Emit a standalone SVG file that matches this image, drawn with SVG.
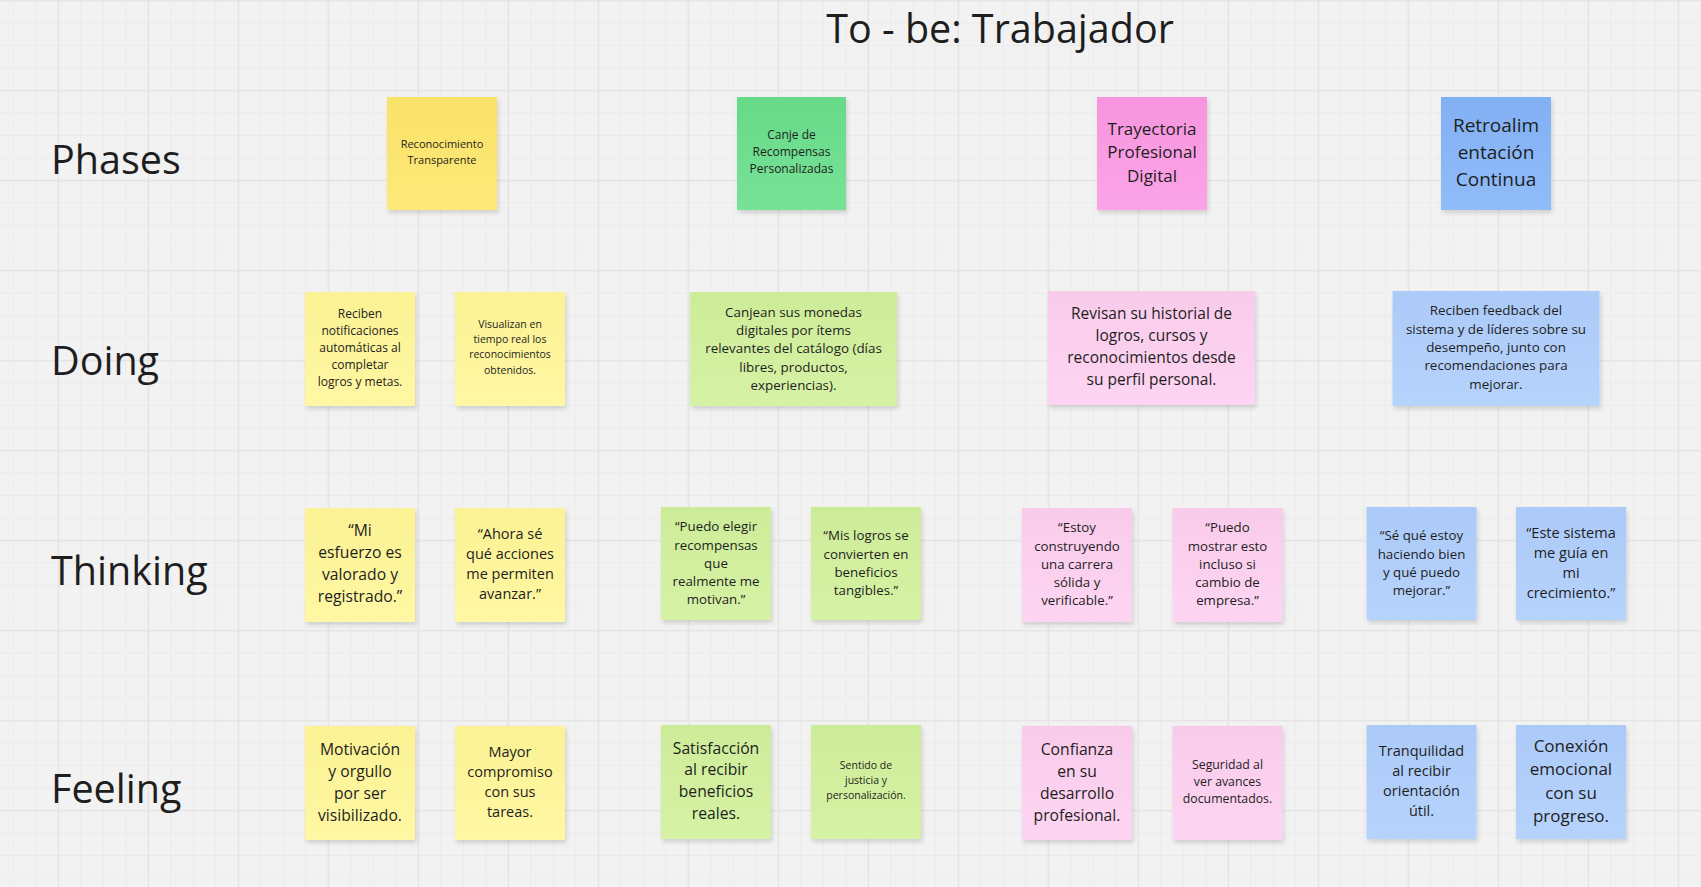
<svg xmlns="http://www.w3.org/2000/svg" width="1701" height="887" viewBox="0 0 1701 887">
<defs>
<pattern id="minor" patternUnits="userSpaceOnUse" x="57.8" y="0" width="22.5" height="22.5">
<rect x="0" y="0" width="1" height="22.5" fill="#ebebeb"/>
<rect x="0" y="0" width="22.5" height="1" fill="#ebebeb"/>
</pattern>
<pattern id="major" patternUnits="userSpaceOnUse" x="57.6" y="-0.2" width="90" height="90">
<rect x="0" y="0" width="1.5" height="90" fill="#e4e4e4"/>
<rect x="0" y="0" width="90" height="1.5" fill="#e4e4e4"/>
</pattern>
<linearGradient id="yP" x1="0" y1="0" x2="0" y2="1"><stop offset="0" stop-color="#f9e268"/><stop offset="1" stop-color="#fee979"/></linearGradient>
<linearGradient id="gP" x1="0" y1="0" x2="0" y2="1"><stop offset="0" stop-color="#66da88"/><stop offset="1" stop-color="#78e297"/></linearGradient>
<linearGradient id="pP" x1="0" y1="0" x2="0" y2="1"><stop offset="0" stop-color="#f795de"/><stop offset="1" stop-color="#fba4e7"/></linearGradient>
<linearGradient id="bP" x1="0" y1="0" x2="0" y2="1"><stop offset="0" stop-color="#82b0f4"/><stop offset="1" stop-color="#90bcf8"/></linearGradient>
<linearGradient id="yL" x1="0" y1="0" x2="0" y2="1"><stop offset="0" stop-color="#fbf294"/><stop offset="1" stop-color="#fff7a3"/></linearGradient>
<linearGradient id="gL" x1="0" y1="0" x2="0" y2="1"><stop offset="0" stop-color="#cdec98"/><stop offset="1" stop-color="#d6f2a5"/></linearGradient>
<linearGradient id="pL" x1="0" y1="0" x2="0" y2="1"><stop offset="0" stop-color="#f9cbea"/><stop offset="1" stop-color="#fdd5f2"/></linearGradient>
<linearGradient id="bL" x1="0" y1="0" x2="0" y2="1"><stop offset="0" stop-color="#accaf8"/><stop offset="1" stop-color="#b6d3fc"/></linearGradient>
<filter id="sh" x="-10%" y="-10%" width="125%" height="130%">
<feDropShadow dx="1.5" dy="3" stdDeviation="2" flood-color="#000" flood-opacity="0.14"/>
</filter>
</defs>
<style>
text{font-family:"Open Sans","Noto Sans","DejaVu Sans",sans-serif;fill:#1e1e1e;}
.lbl{font-size:39.5px;}
.st text{text-anchor:middle;}
.st rect{filter:url(#sh);}
</style>
<rect width="1701" height="887" fill="#f2f2f2"/>
<rect width="1701" height="887" fill="url(#minor)"/>
<rect width="1701" height="887" fill="url(#major)"/>

<g id="title"><text x="1000" y="43" class="lbl" text-anchor="middle">To - be: Trabajador</text></g>
<g id="row-labels">
<text x="51" y="174" class="lbl">Phases</text>
<text x="51" y="375" class="lbl">Doing</text>
<text x="51" y="585" class="lbl">Thinking</text>
<text x="51" y="803" class="lbl">Feeling</text>
</g>
<g id="connectors"/>

<!-- Phases -->
<g id="phase-1" class="st"><rect x="387" y="97" width="110" height="113" fill="url(#yP)"/>
<text font-size="11"><tspan x="442" y="148.2">Reconocimiento</tspan><tspan x="442" y="163.6">Transparente</tspan></text></g>
<g id="phase-2" class="st"><rect x="737" y="97" width="109" height="113" fill="url(#gP)"/>
<text font-size="12"><tspan x="791.5" y="138.9">Canje de</tspan><tspan x="791.5" y="156.1">Recompensas</tspan><tspan x="791.5" y="173.3">Personalizadas</tspan></text></g>
<g id="phase-3" class="st"><rect x="1097" y="97" width="110" height="113" fill="url(#pP)"/>
<text font-size="17"><tspan x="1152" y="134.7">Trayectoria</tspan><tspan x="1152" y="158.4">Profesional</tspan><tspan x="1152" y="182.1">Digital</tspan></text></g>
<g id="phase-4" class="st"><rect x="1441" y="97" width="110" height="113" fill="url(#bP)"/>
<text font-size="19"><tspan x="1496" y="132.3">Retroalim</tspan><tspan x="1496" y="159.2">entación</tspan><tspan x="1496" y="186.1">Continua</tspan></text></g>

<!-- Doing -->
<g id="doing-1" class="st"><rect x="305" y="292" width="110" height="114" fill="url(#yL)"/>
<text font-size="12"><tspan x="360" y="317.5">Reciben</tspan><tspan x="360" y="334.6">notificaciones</tspan><tspan x="360" y="351.7">automáticas al</tspan><tspan x="360" y="368.8">completar</tspan><tspan x="360" y="385.9">logros y metas.</tspan></text></g>
<g id="doing-2" class="st"><rect x="455" y="292" width="110" height="114" fill="url(#yL)"/>
<text font-size="10.5"><tspan x="510" y="328">Visualizan en</tspan><tspan x="510" y="343.2">tiempo real los</tspan><tspan x="510" y="358.4">reconocimientos</tspan><tspan x="510" y="373.6">obtenidos.</tspan></text></g>
<g id="doing-3" class="st"><rect x="690" y="292" width="207" height="114" fill="url(#gL)"/>
<text font-size="13.4"><tspan x="793.5" y="316.7">Canjean sus monedas</tspan><tspan x="793.5" y="335">digitales por ítems</tspan><tspan x="793.5" y="353.2">relevantes del catálogo (días</tspan><tspan x="793.5" y="371.5">libres, productos,</tspan><tspan x="793.5" y="389.7">experiencias).</tspan></text></g>
<g id="doing-4" class="st"><rect x="1048" y="291" width="207" height="114" fill="url(#pL)"/>
<text font-size="15.5"><tspan x="1151.5" y="319.4">Revisan su historial de</tspan><tspan x="1151.5" y="341.2">logros, cursos y</tspan><tspan x="1151.5" y="363">reconocimientos desde</tspan><tspan x="1151.5" y="384.8">su perfil personal.</tspan></text></g>
<g id="doing-5" class="st"><rect x="1392.5" y="291" width="207" height="115" fill="url(#bL)"/>
<text font-size="13.4"><tspan x="1496" y="315.4">Reciben feedback del</tspan><tspan x="1496" y="333.7">sistema y de líderes sobre su</tspan><tspan x="1496" y="352">desempeño, junto con</tspan><tspan x="1496" y="370.3">recomendaciones para</tspan><tspan x="1496" y="388.6">mejorar.</tspan></text></g>

<!-- Thinking -->
<g id="thinking-1" class="st"><rect x="305" y="508" width="110" height="114" fill="url(#yL)"/>
<text font-size="15.7"><tspan x="360" y="536.2">“Mi</tspan><tspan x="360" y="558.2">esfuerzo es</tspan><tspan x="360" y="580.2">valorado y</tspan><tspan x="360" y="602.2">registrado.”</tspan></text></g>
<g id="thinking-2" class="st"><rect x="455" y="508" width="110" height="114" fill="url(#yL)"/>
<text font-size="14.5"><tspan x="510" y="539.1">“Ahora sé</tspan><tspan x="510" y="559.1">qué acciones</tspan><tspan x="510" y="579.1">me permiten</tspan><tspan x="510" y="599.1">avanzar.”</tspan></text></g>
<g id="thinking-3" class="st"><rect x="661" y="507" width="110" height="113" fill="url(#gL)"/>
<text font-size="13.3"><tspan x="716" y="531.4">“Puedo elegir</tspan><tspan x="716" y="549.6">recompensas</tspan><tspan x="716" y="567.8">que</tspan><tspan x="716" y="586">realmente me</tspan><tspan x="716" y="604.2">motivan.”</tspan></text></g>
<g id="thinking-4" class="st"><rect x="811" y="507" width="110" height="113" fill="url(#gL)"/>
<text font-size="13.3"><tspan x="866" y="540.4">“Mis logros se</tspan><tspan x="866" y="558.6">convierten en</tspan><tspan x="866" y="576.8">beneficios</tspan><tspan x="866" y="595">tangibles.”</tspan></text></g>
<g id="thinking-5" class="st"><rect x="1022" y="508" width="110" height="114" fill="url(#pL)"/>
<text font-size="13.3"><tspan x="1077" y="532.4">“Estoy</tspan><tspan x="1077" y="550.6">construyendo</tspan><tspan x="1077" y="568.8">una carrera</tspan><tspan x="1077" y="587">sólida y</tspan><tspan x="1077" y="605.2">verificable.”</tspan></text></g>
<g id="thinking-6" class="st"><rect x="1172.5" y="508" width="110" height="114" fill="url(#pL)"/>
<text font-size="13.3"><tspan x="1227.5" y="532.4">“Puedo</tspan><tspan x="1227.5" y="550.6">mostrar esto</tspan><tspan x="1227.5" y="568.8">incluso si</tspan><tspan x="1227.5" y="587">cambio de</tspan><tspan x="1227.5" y="605.2">empresa.”</tspan></text></g>
<g id="thinking-7" class="st"><rect x="1366.5" y="507" width="110" height="113" fill="url(#bL)"/>
<text font-size="13.3"><tspan x="1421.5" y="540.4">“Sé qué estoy</tspan><tspan x="1421.5" y="558.6">haciendo bien</tspan><tspan x="1421.5" y="576.8">y qué puedo</tspan><tspan x="1421.5" y="595">mejorar.”</tspan></text></g>
<g id="thinking-8" class="st"><rect x="1516" y="507" width="110" height="113" fill="url(#bL)"/>
<text font-size="14.5"><tspan x="1571" y="537.8">“Este sistema</tspan><tspan x="1571" y="557.8">me guía en</tspan><tspan x="1571" y="577.8">mi</tspan><tspan x="1571" y="597.8">crecimiento.”</tspan></text></g>

<!-- Feeling -->
<g id="feeling-1" class="st"><rect x="305" y="726" width="110" height="114" fill="url(#yL)"/>
<text font-size="15.7"><tspan x="360" y="754.8">Motivación</tspan><tspan x="360" y="776.8">y orgullo</tspan><tspan x="360" y="798.8">por ser</tspan><tspan x="360" y="820.8">visibilizado.</tspan></text></g>
<g id="feeling-2" class="st"><rect x="455" y="726" width="110" height="114" fill="url(#yL)"/>
<text font-size="14.5"><tspan x="510" y="757.4">Mayor</tspan><tspan x="510" y="777.4">compromiso</tspan><tspan x="510" y="797.4">con sus</tspan><tspan x="510" y="817.4">tareas.</tspan></text></g>
<g id="feeling-3" class="st"><rect x="661" y="725" width="110" height="114" fill="url(#gL)"/>
<text font-size="15.7"><tspan x="716" y="753.5">Satisfacción</tspan><tspan x="716" y="775.4">al recibir</tspan><tspan x="716" y="797.3">beneficios</tspan><tspan x="716" y="819.2">reales.</tspan></text></g>
<g id="feeling-4" class="st"><rect x="811" y="725" width="110" height="114" fill="url(#gL)"/>
<text font-size="10.5"><tspan x="866" y="768.7">Sentido de</tspan><tspan x="866" y="784">justicia y</tspan><tspan x="866" y="799.3">personalización.</tspan></text></g>
<g id="feeling-5" class="st"><rect x="1022" y="726" width="110" height="114" fill="url(#pL)"/>
<text font-size="15.7"><tspan x="1077" y="754.8">Confianza</tspan><tspan x="1077" y="776.8">en su</tspan><tspan x="1077" y="798.8">desarrollo</tspan><tspan x="1077" y="820.8">profesional.</tspan></text></g>
<g id="feeling-6" class="st"><rect x="1172.5" y="726" width="110" height="114" fill="url(#pL)"/>
<text font-size="12.3"><tspan x="1227.5" y="768.6">Seguridad al</tspan><tspan x="1227.5" y="785.9">ver avances</tspan><tspan x="1227.5" y="803.2">documentados.</tspan></text></g>
<g id="feeling-7" class="st"><rect x="1366.5" y="725" width="110" height="114" fill="url(#bL)"/>
<text font-size="14.5"><tspan x="1421.5" y="755.8">Tranquilidad</tspan><tspan x="1421.5" y="776">al recibir</tspan><tspan x="1421.5" y="796.2">orientación</tspan><tspan x="1421.5" y="816.4">útil.</tspan></text></g>
<g id="feeling-8" class="st"><rect x="1516" y="725" width="110" height="114" fill="url(#bL)"/>
<text font-size="17"><tspan x="1571" y="751.7">Conexión</tspan><tspan x="1571" y="775.2">emocional</tspan><tspan x="1571" y="798.7">con su</tspan><tspan x="1571" y="822.2">progreso.</tspan></text></g>
</svg>
